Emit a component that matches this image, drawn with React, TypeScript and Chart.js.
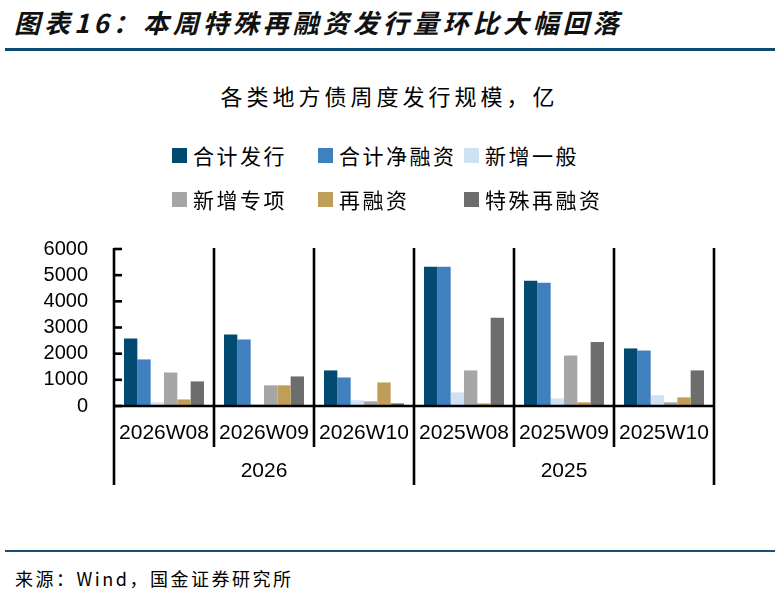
import React, { useEffect, useRef } from "react";
import { Chart, registerables } from "chart.js";

Chart.register(...registerables);

const weeks = ["2026W08", "2026W09", "2026W10", "2025W08", "2025W09", "2025W10"];
const years = ["2026", "2025"];
const weeksPerYear = 3;
const yTicks = [0, 1000, 2000, 3000, 4000, 5000, 6000];

const seriesNames = ["合计发行", "合计净融资", "新增一般", "新增专项", "再融资", "特殊再融资"];
const seriesColors = ["#024a72", "#4180be", "#cfe2f3", "#a6a6a6", "#bf9e5a", "#6d6d6d"];

const totalIssue = [2580, 2730, 1360, 5320, 4790, 2200];
const netFinancing = [1780, 2540, 1090, 5320, 4710, 2120];
const newGeneral = [140, 80, 220, 520, 290, 410];
const newSpecial = [1280, 790, 180, 1360, 1930, 140];
const refinancing = [250, 790, 900, 100, 140, 330];
const specialRefinancing = [940, 1130, 100, 3370, 2450, 1360];

const seriesValues = [totalIssue, netFinancing, newGeneral, newSpecial, refinancing, specialRefinancing];

const FONT_CJK = "'Noto Sans CJK SC', 'Noto Sans', sans-serif";
const FONT_NUM = "'Liberation Sans', Arial, sans-serif";

const CANVAS_TOP = 213;
const CANVAS_H = 287;

const axisPlugin = {
  id: "axisDecor",
  afterDraw(chart: any) {
    const { ctx, chartArea, scales } = chart;
    const x = scales.x;
    const y = scales.y;
    const n = weeks.length;
    const step = n > 1 ? x.getPixelForValue(1) - x.getPixelForValue(0) : chartArea.right - chartArea.left;
    const zeroY = y.getPixelForValue(0);
    const topY = y.getPixelForValue(yTicks[yTicks.length - 1]);
    ctx.save();
    ctx.strokeStyle = "#000";
    ctx.lineWidth = 2.6;
    ctx.lineCap = "butt";
    // x axis line
    ctx.beginPath();
    ctx.moveTo(chartArea.left - 1, zeroY);
    ctx.lineTo(chartArea.right + 1, zeroY);
    ctx.stroke();
    // y ticks (inward)
    yTicks.forEach((v) => {
      const py = y.getPixelForValue(v);
      ctx.beginPath();
      ctx.moveTo(chartArea.left, py);
      ctx.lineTo(chartArea.left + 8, py);
      ctx.stroke();
    });
    // separators
    for (let i = 0; i <= n; i++) {
      const px = i < n ? x.getPixelForValue(i) - step / 2 : x.getPixelForValue(n - 1) + step / 2;
      const isYearEdge = i % weeksPerYear === 0;
      ctx.beginPath();
      ctx.moveTo(px, topY - 1);
      ctx.lineTo(px, isYearEdge ? zeroY + 79 : zeroY + 41);
      ctx.stroke();
    }
    // year labels
    ctx.fillStyle = "#000";
    ctx.font = `21px ${FONT_NUM}`;
    ctx.textAlign = "center";
    ctx.textBaseline = "middle";
    years.forEach((yr, gi) => {
      const a = x.getPixelForValue(gi * weeksPerYear);
      const b = x.getPixelForValue(gi * weeksPerYear + weeksPerYear - 1);
      ctx.fillText(yr, (a + b) / 2, zeroY + 65);
    });
    ctx.restore();
  },
};

export default function App() {
  const ref = useRef<HTMLCanvasElement | null>(null);

  useEffect(() => {
    if (!ref.current) return;
    const chart = new Chart(ref.current, {
      type: "bar",
      data: {
        labels: weeks,
        datasets: seriesNames.map((name, i) => ({
          label: name,
          data: seriesValues[i],
          backgroundColor: seriesColors[i],
          borderWidth: 0,
          categoryPercentage: 0.8,
          barPercentage: 1.0,
        })),
      },
      options: {
        animation: false,
        responsive: false,
        maintainAspectRatio: false,
        layout: { autoPadding: false, padding: { top: 1, right: 61, left: 0, bottom: 0 } },
        plugins: {
          legend: { display: false },
          tooltip: { enabled: false },
          title: { display: false },
        },
        scales: {
          x: {
            grid: { display: false, drawTicks: false },
            border: { display: false },
            ticks: {
              color: "#000",
              font: { family: FONT_NUM, size: 21 },
              padding: 15,
              maxRotation: 0,
              autoSkip: false,
            },
            afterFit: (scale: any) => {
              scale.height = 94;
            },
          },
          y: {
            min: 0,
            max: 6000,
            grid: { display: false, drawTicks: false },
            border: { display: false },
            afterBuildTicks: (scale: any) => {
              scale.ticks = yTicks.map((v) => ({ value: v }));
            },
            ticks: {
              autoSkip: false,
              color: "#000",
              font: { family: FONT_NUM, size: 20, lineHeight: 1 },
              padding: 26,
              callback: (v: any) => String(v),
            },
            afterFit: (scale: any) => {
              scale.width = 114;
            },
          },
        },
      },
      plugins: [axisPlugin],
    });
    return () => chart.destroy();
  }, []);

  const legendCols = [172, 318, 464];
  const legendRows = [155, 199];

  return (
    <div style={{ position: "absolute", left: 0, top: 0, width: 775, height: 599, background: "#fff", overflow: "hidden" }}>
      <div
        style={{
          position: "absolute",
          left: 14,
          top: 4,
          fontFamily: FONT_CJK,
          fontSize: 26,
          fontStyle: "italic",
          fontWeight: "bold",
          letterSpacing: 4,
          color: "#111",
          whiteSpace: "nowrap",
          lineHeight: "36px",
        }}
      >
        图表16：本周特殊再融资发行量环比大幅回落
      </div>
      <div style={{ position: "absolute", left: 5, top: 48, width: 770, height: 3, background: "#0d4a6e" }} />
      <div
        style={{
          position: "absolute",
          left: 0,
          width: 775,
          top: 80,
          textAlign: "center",
          fontFamily: FONT_CJK,
          fontSize: 22,
          letterSpacing: 4,
          lineHeight: "30px",
          color: "#000",
          paddingLeft: 4,
          boxSizing: "border-box",
        }}
      >
        各类地方债周度发行规模，亿
      </div>
      <canvas
        ref={ref}
        width={775}
        height={CANVAS_H}
        style={{ position: "absolute", left: 0, top: CANVAS_TOP, width: 775, height: CANVAS_H }}
      />
      {seriesNames.map((name, i) => (
        <div
          key={name}
          style={{
            position: "absolute",
            left: legendCols[i % 3],
            top: legendRows[Math.floor(i / 3)] - 15,
            height: 30,
            display: "flex",
            alignItems: "center",
            whiteSpace: "nowrap",
          }}
        >
          <span style={{ display: "inline-block", width: 15, height: 15, background: seriesColors[i], marginRight: 6 }} />
          <span style={{ fontFamily: FONT_CJK, fontSize: 21, letterSpacing: 2.5, color: "#000", lineHeight: "30px" }}>{name}</span>
        </div>
      ))}
      <div style={{ position: "absolute", left: 5, top: 550, width: 770, height: 2, background: "#1b4d6e" }} />
      <div
        style={{
          position: "absolute",
          left: 15,
          top: 564,
          fontFamily: FONT_CJK,
          fontSize: 18,
          letterSpacing: 2.5,
          lineHeight: "28px",
          color: "#000",
          whiteSpace: "nowrap",
        }}
      >
        来源：Wind，国金证券研究所
      </div>
    </div>
  );
}
